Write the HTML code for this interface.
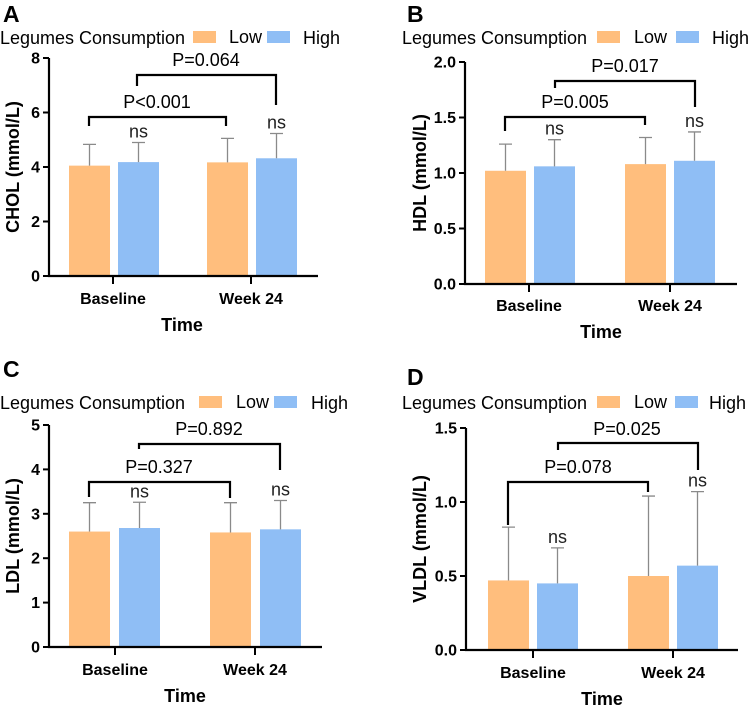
<!DOCTYPE html>
<html><head><meta charset="utf-8"><style>
html,body{margin:0;padding:0;background:#fff;}
svg{display:block;font-family:"Liberation Sans",Arial,sans-serif;}
</style></head><body>
<svg id="fig" width="749" height="707" viewBox="0 0 749 707"></svg>
<script>
const categories = ["Baseline", "Week 24"];
const cholLow = [4.05, 4.17], cholLowErr = [0.78, 0.88], cholHigh = [4.18, 4.32], cholHighErr = [0.72, 0.91];
const hdlLow = [1.02, 1.08], hdlLowErr = [0.24, 0.24], hdlHigh = [1.06, 1.11], hdlHighErr = [0.24, 0.26];
const ldlLow = [2.6, 2.58], ldlLowErr = [0.65, 0.67], ldlHigh = [2.68, 2.65], ldlHighErr = [0.58, 0.65];
const vldlLow = [0.47, 0.50], vldlLowErr = [0.36, 0.54], vldlHigh = [0.45, 0.57], vldlHighErr = [0.24, 0.50];
const cholTicks = ["0","2","4","6","8"], hdlTicks = ["0.0","0.5","1.0","1.5","2.0"], ldlTicks = ["0","1","2","3","4","5"], vldlTicks = ["0.0","0.5","1.0","1.5"];
const cholP = ["P<0.001","P=0.064"], hdlP = ["P=0.005","P=0.017"], ldlP = ["P=0.327","P=0.892"], vldlP = ["P=0.078","P=0.025"];

const NS="http://www.w3.org/2000/svg";
const svg=document.getElementById('fig');
function mk(tag,attrs,parent,text){const e=document.createElementNS(NS,tag);for(const k in attrs)e.setAttribute(k,attrs[k]);if(text!==undefined)e.textContent=text;(parent||svg).appendChild(e);return e;}

const panels=[
 {key:'a',letter:'A',title:'CHOL (mmol/L)',low:cholLow,lowErr:cholLowErr,high:cholHigh,highErr:cholHighErr,ticks:cholTicks,max:8,p:cholP,
  ax:49,top:58,y0:276,xend:318,bars:[69,118,207,256],bw:41,ticks_x:[113,251],titleX:3,titleY:22,legY:38,legX:0,boxL:193,lowX:229,boxH:267,highX:303,
  catY:304,timeY:331,timeX:182,ytX:13,
  br1:{y:117,x1:89,x2:226,l1:126,l2:126,tx:157,ty:108},br2:{y:75,x1:137,x2:276,l1:86,l2:105,tx:206,ty:66}},
 {key:'b',letter:'B',title:'HDL (mmol/L)',low:hdlLow,lowErr:hdlLowErr,high:hdlHigh,highErr:hdlHighErr,ticks:hdlTicks,max:2,p:hdlP,
  ax:465,top:62,y0:284,xend:737,bars:[485,534,625,674],bw:41,ticks_x:[529,670],titleX:407,titleY:22,legY:38,legX:402,boxL:597,lowX:634,boxH:676,highX:712,
  catY:311,timeY:338,timeX:601,ytX:420,
  br1:{y:117,x1:505,x2:645,l1:131,l2:125,tx:575,ty:108},br2:{y:81,x1:555,x2:695,l1:88,l2:107,tx:625,ty:72}},
 {key:'c',letter:'C',title:'LDL (mmol/L)',low:ldlLow,lowErr:ldlLowErr,high:ldlHigh,highErr:ldlHighErr,ticks:ldlTicks,max:5,p:ldlP,
  ax:49,top:425,y0:647,xend:322,bars:[69,119,210,260],bw:41,ticks_x:[115,255],titleX:3,titleY:377,legY:403,legX:0,boxL:199,lowX:236,boxH:274,highX:311,
  catY:675,timeY:702,timeX:185,ytX:13,
  br1:{y:482,x1:89,x2:230,l1:497,l2:498,tx:159,ty:473},br2:{y:444,x1:139,x2:280,l1:449,l2:470,tx:209,ty:435}},
 {key:'d',letter:'D',title:'VLDL (mmol/L)',low:vldlLow,lowErr:vldlLowErr,high:vldlHigh,highErr:vldlHighErr,ticks:vldlTicks,max:1.5,p:vldlP,
  ax:466,top:428,y0:650,xend:738,bars:[488,537,628,677],bw:41,ticks_x:[533,673],titleX:407,titleY:385,legY:403,legX:402,boxL:597,lowX:634,boxH:675,highX:709,
  catY:678,timeY:705,timeX:602,ytX:420,
  br1:{y:482,x1:508,x2:648,l1:525,l2:492,tx:578,ty:473},br2:{y:443,x1:558,x2:698,l1:450,l2:470,tx:627,ty:435}}
];

panels.forEach(P=>{
 const g=mk('g',{});
 
 
 const yS=v=>P.y0-(v/P.max)*(P.y0-P.top);
 const t=mk('text',{x:P.titleX,y:P.titleY,'font-size':23,'font-weight':'bold',fill:'#000'},g,P.letter);
 
 
 const lg=mk('g',{},g);
 
 
 mk('text',{x:P.legX,y:P.legY+6,'font-size':18,fill:'#000',textLength:185,lengthAdjust:'spacingAndGlyphs'},lg,'Legumes Consumption');
 mk('rect',{x:P.boxL,y:P.legY-7,width:23,height:12,fill:'#FFBE7D'},lg);
 mk('text',{x:P.lowX,y:P.legY+5,'font-size':18,fill:'#000'},lg,'Low');
 mk('rect',{x:P.boxH,y:P.legY-7,width:23,height:12,fill:'#8FBEF5'},lg);
 mk('text',{x:P.highX,y:P.legY+6,'font-size':18,fill:'#000'},lg,'High');
 const series=[[P.low,P.lowErr,'#FFBE7D','low'],[P.high,P.highErr,'#8FBEF5','high']];
 categories.forEach((c,ci)=>{
  series.forEach((s,si)=>{
   const x=P.bars[ci*2+si];
   const v=s[0][ci], e=s[1][ci];
   const r=mk('rect',{x:x,y:yS(v),width:P.bw,height:P.y0-yS(v),fill:s[2]},g);
   
   
   const cx=x+P.bw/2, ey=yS(v+e);
   const eb=mk('path',{d:`M${cx},${yS(v)}V${ey}M${cx-6.5},${ey}H${cx+6.5}`,stroke:'#8a8a8a','stroke-width':1.3,fill:'none'},g);
   
   
   if(si===1){
    const n=mk('text',{x:cx,y:ey-5,'font-size':18,'text-anchor':'middle',fill:'#222'},g,'ns');
    
    
   }
  });
  const cl=mk('text',{x:P.ticks_x[ci],y:P.catY,'font-size':16,'font-weight':'bold','text-anchor':'middle',fill:'#000'},g,c);
  
  
  mk('line',{x1:P.ticks_x[ci],x2:P.ticks_x[ci],y1:P.y0,y2:P.y0+8,stroke:'#000','stroke-width':2},g);
 });
 const ax=mk('path',{d:`M${P.ax},${P.top}V${P.y0}H${P.xend}`,stroke:'#000','stroke-width':2.2,fill:'none'},g);
 
 
 P.ticks.forEach((tk,i)=>{
  const y=yS(parseFloat(tk));
  mk('line',{x1:P.ax-6,x2:P.ax,y1:y,y2:y,stroke:'#000','stroke-width':2},g);
  const tl=mk('text',{x:P.ax-9,y:y+5.5,'font-size':16,'font-weight':'bold','text-anchor':'end',fill:'#000'},g,tk);
  
  
 });
 const yt=mk('text',{x:P.ytX,y:(P.top+P.y0)/2,'font-size':18,'font-weight':'bold','text-anchor':'middle',fill:'#000',transform:`rotate(-90 ${P.ytX} ${(P.top+P.y0)/2})`,'dominant-baseline':'central'},g,P.title);
 
 
 const xt=mk('text',{x:P.timeX,y:P.timeY,'font-size':18,'font-weight':'bold','text-anchor':'middle',fill:'#000'},g,'Time');
 
 
 [P.br1,P.br2].forEach((b,i)=>{
  const bp=mk('path',{d:`M${b.x1},${b.l1}V${b.y}H${b.x2}V${b.l2}`,stroke:'#000','stroke-width':2.2,fill:'none'},g);
  
  
  const pt=mk('text',{x:b.tx,y:b.ty,'font-size':18,'text-anchor':'middle',fill:'#000'},g,P.p[i]);
  
  
 });
});
</script>
</body></html>
